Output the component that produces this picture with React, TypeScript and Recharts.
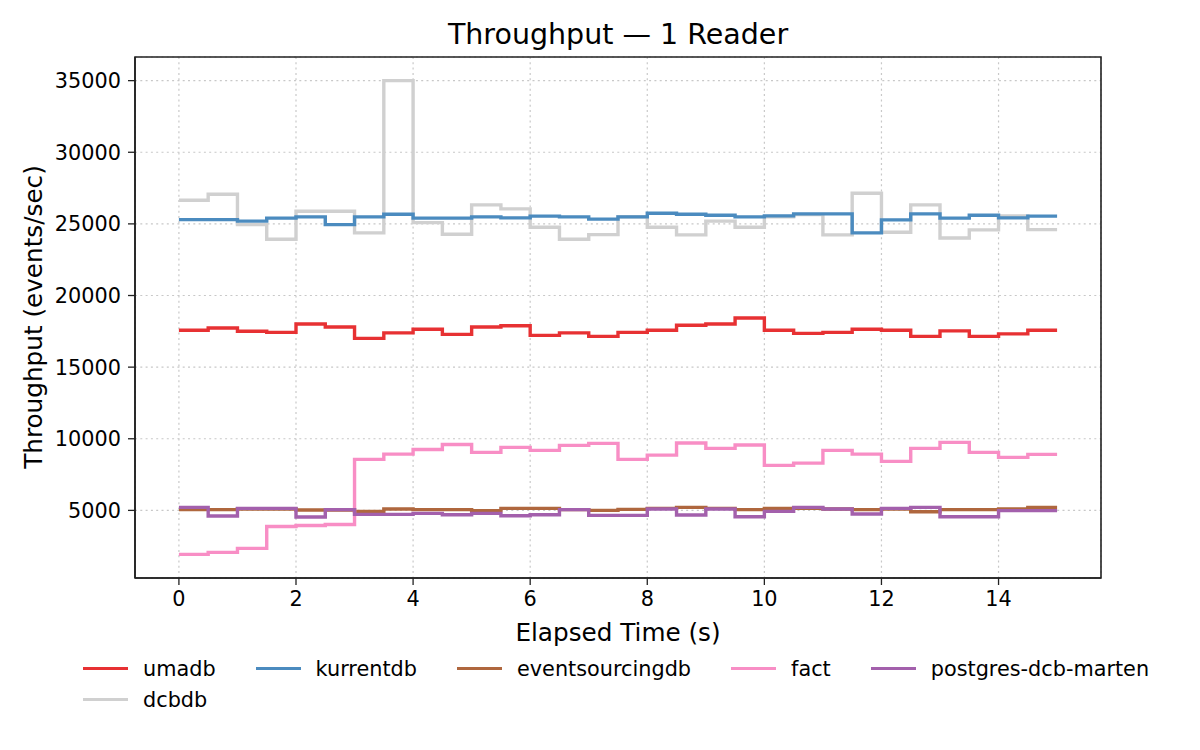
import React from 'react'
import { LineChart, Line, XAxis, YAxis, CartesianGrid, ReferenceArea } from 'recharts'

// elapsed seconds, one sample every 0.5 s
const times = [0, 0.5, 1, 1.5, 2, 2.5, 3, 3.5, 4, 4.5, 5, 5.5, 6, 6.5, 7, 7.5, 8, 8.5, 9, 9.5, 10, 10.5, 11, 11.5, 12, 12.5, 13, 13.5, 14, 14.5, 15]

const umadb = [17570, 17730, 17500, 17430, 18010, 17800, 17010, 17390, 17640, 17290, 17800, 17890, 17220, 17390, 17150, 17430, 17570, 17920, 18010, 18430, 17570, 17360, 17430, 17640, 17570, 17150, 17530, 17150, 17320, 17570, 17570]
const kurrentdb = [25300, 25300, 25190, 25400, 25490, 24950, 25490, 25670, 25400, 25400, 25490, 25420, 25540, 25490, 25330, 25490, 25740, 25670, 25600, 25490, 25560, 25700, 25700, 24370, 25280, 25700, 25400, 25600, 25420, 25540, 25540]
const eventsourcingdb = [5050, 5050, 5100, 5100, 5030, 5030, 4930, 5100, 5050, 5050, 4980, 5140, 5140, 5050, 5000, 5070, 5140, 5210, 5140, 5050, 5140, 5140, 5100, 5050, 5100, 4910, 5050, 5050, 5100, 5210, 5210]
const fact = [1930, 2070, 2350, 3880, 3950, 4020, 8560, 8930, 9250, 9600, 9050, 9400, 9190, 9540, 9680, 8560, 8860, 9700, 9330, 9560, 8140, 8300, 9190, 8930, 8420, 9330, 9750, 9050, 8700, 8910, 8910]
const postgresDcbMarten = [5210, 4610, 5140, 5140, 4540, 5050, 4720, 4720, 4790, 4700, 4790, 4630, 4700, 5050, 4650, 4650, 5100, 4680, 5100, 4560, 4930, 5210, 5100, 4750, 5140, 5210, 4560, 4560, 4980, 4980, 4980]
const dcbdb = [26650, 27070, 24950, 23930, 25880, 25880, 24370, 35000, 25090, 24280, 26330, 26050, 24770, 23930, 24250, 25500, 24770, 24230, 25190, 24770, 25500, 25650, 24230, 27140, 24420, 26330, 24020, 24580, 25560, 24600, 24600]

const xTicks = [0, 2, 4, 6, 8, 10, 12, 14]
const yTicks = [5000, 10000, 15000, 20000, 25000, 30000, 35000]

const X_DOMAIN: [number, number] = [-0.75, 15.75]
const Y_DOMAIN: [number, number] = [280, 36650]

// legend order (row-major as laid out in the figure)
const series = [
  { key: 'umadb', name: 'umadb', color: '#e73133', values: umadb },
  { key: 'kurrentdb', name: 'kurrentdb', color: '#4b8bbf', values: kurrentdb },
  { key: 'eventsourcingdb', name: 'eventsourcingdb', color: '#af673e', values: eventsourcingdb },
  { key: 'fact', name: 'fact', color: '#f88ec5', values: fact },
  { key: 'postgres', name: 'postgres-dcb-marten', color: '#a360ac', values: postgresDcbMarten },
  { key: 'dcbdb', name: 'dcbdb', color: '#d0d0d0', values: dcbdb },
]

// dcbdb sits underneath everything else
const drawOrder = ['dcbdb', 'umadb', 'kurrentdb', 'eventsourcingdb', 'fact', 'postgres']

const chartData = times.map((t, i) => {
  const row: Record<string, number> = { t }
  series.forEach(s => { row[s.key] = s.values[i] })
  return row
})

const FONT = '"DejaVu Sans", sans-serif'

const centered = (x: number, y: number, size: number, rotate = 0): React.CSSProperties => ({
  position: 'absolute',
  left: x,
  top: y,
  transform: `translate(-50%, -50%) rotate(${rotate}deg)`,
  fontFamily: FONT,
  fontSize: size,
  whiteSpace: 'nowrap',
  color: '#000',
  lineHeight: 1.164,
})

export default function App() {
  const yAxisWidth = 60
  const xAxisHeight = 30

  return (
    <div style={{ position: 'relative', width: 1200, height: 750, background: '#fff' }}>
      <style>{'body { margin: 0; }'}</style>
      <LineChart
        width={1200}
        height={750}
        data={chartData}
        margin={{ top: 57, right: 99, bottom: 172 - xAxisHeight, left: 135 - yAxisWidth }}
      >
        <CartesianGrid stroke="#c8c8c8" strokeWidth={1.2} strokeDasharray="2 3.3" />
        <XAxis
          dataKey="t"
          type="number"
          domain={X_DOMAIN}
          ticks={xTicks}
          allowDataOverflow
          height={xAxisHeight}
          tickSize={7}
          tickMargin={6}
          stroke="#000"
          axisLine={{ stroke: '#222', strokeWidth: 1.6 }}
          tickLine={{ stroke: '#222', strokeWidth: 1.3 }}
          tick={{ fill: '#000', fontSize: 20.8, fontFamily: FONT }}
        />
        <YAxis
          type="number"
          domain={Y_DOMAIN}
          ticks={yTicks}
          allowDataOverflow
          width={yAxisWidth}
          tickSize={7}
          tickMargin={7}
          stroke="#000"
          axisLine={{ stroke: '#222', strokeWidth: 1.6 }}
          tickLine={{ stroke: '#222', strokeWidth: 1.3 }}
          tick={{ fill: '#000', fontSize: 20.8, fontFamily: FONT }}
        />
        <ReferenceArea
          x1={X_DOMAIN[0]}
          x2={X_DOMAIN[1]}
          y1={Y_DOMAIN[0]}
          y2={Y_DOMAIN[1]}
          fill="none"
          stroke="#222"
          strokeWidth={1.6}
          ifOverflow="visible"
        />
        {drawOrder.map(k => {
          const s = series.find(d => d.key === k)!
          return (
            <Line
              key={s.key}
              dataKey={s.key}
              name={s.name}
              type="stepAfter"
              stroke={s.color}
              strokeWidth={3.4}
              dot={false}
              activeDot={false}
              isAnimationActive={false}
            />
          )
        })}
      </LineChart>

      <div style={centered(618, 35, 28.5)}>Throughput — 1 Reader</div>
      <div style={centered(618, 633, 24.7)}>Elapsed Time (s)</div>
      <div style={centered(34, 317, 24.7, -90)}>Throughput (events/sec)</div>

      <div
        style={{
          position: 'absolute',
          left: 83,
          top: 653,
          display: 'grid',
          gridTemplateColumns: 'repeat(5, auto)',
          columnGap: 40,
          rowGap: 0,
          fontFamily: FONT,
          fontSize: 20.8,
        }}
      >
        {series.map(s => (
          <div key={s.key} style={{ display: 'flex', alignItems: 'center', height: 31 }}>
            <div style={{ width: 45, height: 3.5, background: s.color, marginRight: 15 }} />
            <span style={{ whiteSpace: 'nowrap' }}>{s.name}</span>
          </div>
        ))}
      </div>
    </div>
  )
}
